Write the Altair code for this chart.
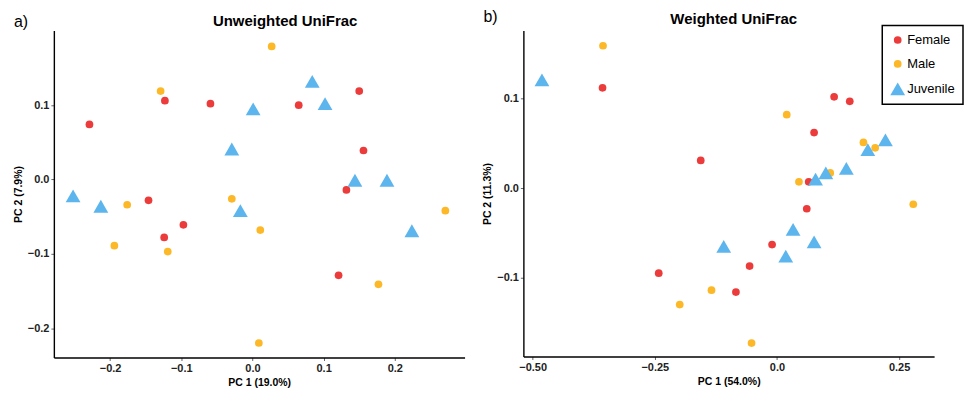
import altair as alt
import pandas as pd

groups = ["Female", "Male", "Juvenile"]
colors = ["#EC3B3B", "#FDB827", "#5DB5EE"]

# Unweighted UniFrac (panel a)
uw_female_x = [-0.229, -0.123, -0.059, 0.065, 0.150, 0.156, 0.132, -0.146, -0.097, -0.124, 0.121]
uw_female_y = [0.074, 0.106, 0.102, 0.100, 0.119, 0.039, -0.014, -0.028, -0.061, -0.078, -0.129]
uw_male_x = [-0.129, 0.027, -0.176, -0.194, -0.119, -0.029, 0.011, 0.009, 0.177, 0.271]
uw_male_y = [0.119, 0.179, -0.034, -0.089, -0.097, -0.026, -0.068, -0.220, -0.141, -0.042]
uw_juv_x = [0.084, 0.102, 0.001, -0.029, 0.144, 0.189, -0.252, -0.213, -0.017, 0.224]
uw_juv_y = [0.132, 0.102, 0.095, 0.041, -0.001, -0.001, -0.022, -0.036, -0.042, -0.069]

# Weighted UniFrac (panel b)
w_female_x = [-0.357, 0.117, 0.149, 0.076, -0.156, 0.065, 0.061, -0.010, -0.056, -0.242, -0.084]
w_female_y = [0.112, 0.102, 0.097, 0.062, 0.031, 0.007, -0.023, -0.063, -0.087, -0.095, -0.116]
w_male_x = [-0.356, 0.020, 0.045, 0.109, 0.177, 0.201, 0.279, -0.134, -0.199, -0.052]
w_male_y = [0.159, 0.082, 0.007, 0.017, 0.051, 0.045, -0.018, -0.114, -0.130, -0.173]
w_juv_x = [-0.481, 0.222, 0.186, 0.142, 0.100, 0.079, 0.033, 0.076, 0.018, -0.109]
w_juv_y = [0.121, 0.054, 0.043, 0.022, 0.017, 0.010, -0.046, -0.060, -0.076, -0.065]

def frame(fx, fy, mx, my, jx, jy):
    rows = []
    for g, xs, ys in [("Female", fx, fy), ("Male", mx, my), ("Juvenile", jx, jy)]:
        for a, b in zip(xs, ys):
            rows.append({"PC1": a, "PC2": b, "Group": g})
    return pd.DataFrame(rows)

df_a = frame(uw_female_x, uw_female_y, uw_male_x, uw_male_y, uw_juv_x, uw_juv_y)
df_b = frame(w_female_x, w_female_y, w_male_x, w_male_y, w_juv_x, w_juv_y)

FONT = "Liberation Sans"


def panel(df, xdom, ydom, xticks, yticks, xtitle, ytitle, title, title_x, title_y,
          letter, letter_y, show_legend, width, height, xlabel_expr=None):
    xaxis_kw = dict(values=xticks, title=xtitle, format=".1f")
    if xlabel_expr:
        xaxis_kw["labelExpr"] = xlabel_expr
    leg = None
    if show_legend:
        leg = alt.Legend(title=None, orient="none", legendX=360, legendY=-5,
                         strokeColor="black", fillColor="white",
                         padding=8, rowPadding=10, labelFontSize=13, labelFont=FONT,
                         labelColor="black", symbolStrokeWidth=0, labelOffset=2)
    pts = alt.Chart(df).mark_point(filled=True, opacity=1, strokeWidth=0).encode(
        x=alt.X("PC1:Q", scale=alt.Scale(domain=xdom, nice=False, zero=False),
                axis=alt.Axis(**xaxis_kw)),
        y=alt.Y("PC2:Q", scale=alt.Scale(domain=ydom, nice=False, zero=False),
                axis=alt.Axis(values=yticks, title=ytitle, format=".1f")),
        color=alt.Color("Group:N", scale=alt.Scale(domain=groups, range=colors), legend=leg),
        shape=alt.Shape("Group:N", scale=alt.Scale(domain=groups,
                        range=["circle", "circle", "triangle-up"]), legend=leg),
        size=alt.Size("Group:N", scale=alt.Scale(type="ordinal", domain=groups,
                      range=[60, 60, 220]), legend=leg),
    )
    lab = alt.Chart(pd.DataFrame({"t": [letter]})).mark_text(
        align="left", baseline="middle", fontSize=16, font=FONT, color="black"
    ).encode(text="t:N", x=alt.value(-40), y=alt.value(letter_y))
    ttl = alt.Chart(pd.DataFrame({"t": [title]})).mark_text(
        align="center", baseline="alphabetic", fontSize=15, font=FONT, fontWeight="bold",
        color="black"
    ).encode(text="t:N", x=alt.value(title_x), y=alt.value(title_y))
    return alt.layer(pts, lab, ttl).properties(width=width, height=height)


a = panel(df_a, [-0.279, 0.298], [-0.2395, 0.2004], [-0.2, -0.1, 0.0, 0.1, 0.2],
          [-0.2, -0.1, 0.0, 0.1], "PC 1 (19.0%)", "PC 2 (7.9%)", "Unweighted UniFrac",
          232, -5, "a)", -9, False, 412, 328)
b = panel(df_b, [-0.519, 0.3216], [-0.188, 0.176], [-0.5, -0.25, 0.0, 0.25],
          [-0.1, 0.0, 0.1], "PC 1 (54.0%)", "PC 2 (11.3%)", "Weighted UniFrac",
          211, -7, "b)", -14, True, 412, 327,
          xlabel_expr="datum.value == 0 ? '0.0' : format(datum.value, '.2f')")

chart = alt.hconcat(a, b, spacing=18).resolve_scale(
    x="independent", y="independent"
).resolve_legend(color="independent", shape="independent", size="independent").configure(
    padding={"left": 5, "top": 0, "right": 0, "bottom": 0},
    font=FONT,
).configure_view(stroke=None).configure_legend(strokeWidth=1.5).configure_axis(
    grid=False, domainColor="black", domainWidth=1.4, tickColor="#666", tickSize=3,
    tickWidth=1, labelFont=FONT, labelFontSize=11, labelFontWeight="bold", labelColor="#222",
    labelPadding=2, titleFont=FONT, titleFontSize=10.5, titleFontWeight="bold",
    titleColor="black", titlePadding=4,
)

chart.save("out.html", embed_options={"renderer": "svg", "actions": False})
